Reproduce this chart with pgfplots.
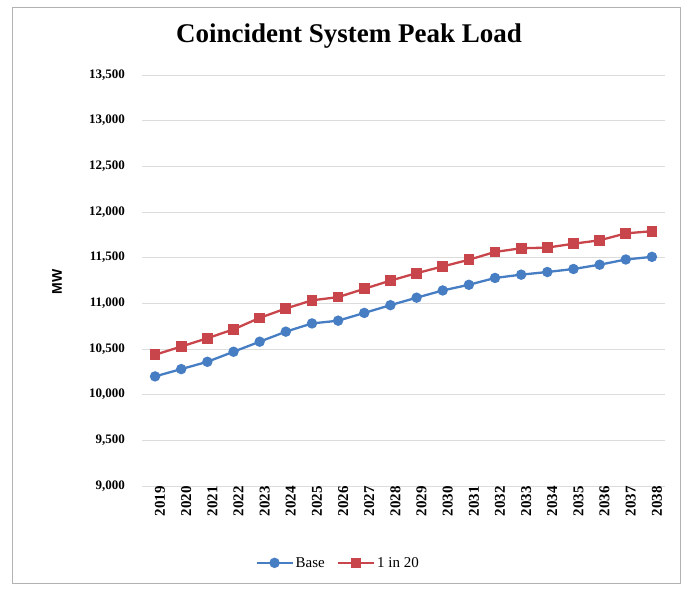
\documentclass[border=0pt]{standalone}
\usepackage{fontspec}
\setmainfont{Liberation Serif}
\newfontfamily\arialfont{Liberation Sans}
\usepackage{pgfplots}
\pgfplotsset{compat=1.18}
\definecolor{baseblue}{RGB}{70,125,195}
\definecolor{onered}{RGB}{200,70,75}
\definecolor{gridgray}{RGB}{220,220,220}
\begin{document}
\begin{tikzpicture}
\useasboundingbox (-142pt,-104pt) rectangle (546pt,486pt);
\draw[gray!60, line width=0.8pt] (-130pt,-97pt) rectangle (538pt,479pt);
\begin{axis}[
    at={(0,0)}, anchor=south west,
    scale only axis,
    width=523pt, height=411pt,
    xmin=2018.5, xmax=2038.5,
    ymin=9000, ymax=13500,
    ytick={9000,9500,...,13500},
    xtick={2019,...,2038},
    scaled y ticks=false,
    ymajorgrids,
    grid style={gridgray, line width=0.8pt},
    axis line style={draw=none},
    major tick length=0pt,
    /pgf/number format/assume math mode=true,
    tick label style={font=\bfseries\fontsize{13}{13}\selectfont},
    yticklabel style={/pgf/number format/fixed, /pgf/number format/1000 sep={,}, inner sep=0pt, anchor=east, xshift=-17pt},
    xticklabel style={/pgf/number format/1000 sep=, rotate=90, anchor=east, inner sep=0pt, yshift=-5pt,
        font=\bfseries\fontsize{15}{15}\selectfont},
    legend columns=2,
    legend style={at={(0.375,-0.187)}, anchor=center, draw=none, fill=none,
        font=\fontsize{15}{15}\selectfont, /tikz/every even column/.append style={column sep=10pt}},
    legend image code/.code={\draw[mark repeat=2, mark phase=2, #1] plot coordinates {(0pt,0pt) (18pt,0pt) (36pt,0pt)};},
]
\addplot[baseblue, line width=2.3pt, mark=*, mark size=4pt] coordinates {
(2019,10200) (2020,10280) (2021,10360) (2022,10470) (2023,10580)
(2024,10690) (2025,10780) (2026,10810) (2027,10895) (2028,10980)
(2029,11062) (2030,11141) (2031,11203) (2032,11278) (2033,11314)
(2034,11343) (2035,11376) (2036,11423) (2037,11480) (2038,11509)
};
\addlegendentry{Base}
\addplot[onered, line width=2.3pt, mark=square*, mark size=4.2pt] coordinates {
(2019,10437) (2020,10527) (2021,10618) (2022,10715) (2023,10841)
(2024,10943) (2025,11033) (2026,11068) (2027,11159) (2028,11249)
(2029,11330) (2030,11404) (2031,11477) (2032,11563) (2033,11603)
(2034,11610) (2035,11653) (2036,11690) (2037,11766) (2038,11790)
};
\addlegendentry{1 in 20}
\end{axis}
\node[font=\bfseries\fontsize{27}{27}\selectfont] at (207pt,450pt) {Coincident System Peak Load};
\node[font=\arialfont\bfseries\fontsize{14}{14}\selectfont, rotate=90] at (-85pt,204pt) {MW};
\end{tikzpicture}
\end{document}
